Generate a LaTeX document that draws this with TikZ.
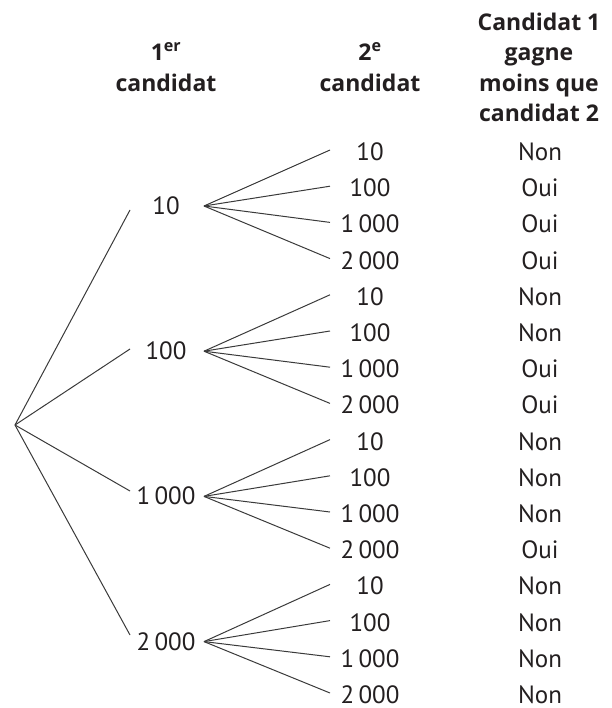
\documentclass[tikz,border=0pt]{standalone}
\usepackage{fontspec}
\setmainfont{PT Sans}
\newfontfamily\hdrfont{Open Sans}
\definecolor{ink}{HTML}{231F20}
\definecolor{wire}{HTML}{3A3A3A}
\newcommand\mythin{\hspace{0.18em}}
\tikzset{
  lbl/.style={text=ink, font=\fontsize{25}{30}\selectfont, inner sep=0pt, text depth=0pt, anchor=base},
  hdr/.style={text=ink, font=\hdrfont\fontsize{23}{30}\selectfont\bfseries, inner sep=0pt, anchor=base},
  br/.style={draw=wire, line width=1pt},
}
\begin{document}
\begin{tikzpicture}[x=1pt,y=-1pt]
\useasboundingbox (0,0) rectangle (611,708);
% headers
\node[hdr] (h1a) at (166,60.5) {1\textsuperscript{er}};
\node[hdr] (h1b) at (166,91.5) {candidat};
\node[hdr] (h2a) at (370,60.5) {2\textsuperscript{e}};
\node[hdr] (h2b) at (370,91.5) {candidat};
\node[hdr] (h3a) at (539,30.5) {Candidat 1};
\node[hdr] (h3b) at (539,60.5) {gagne};
\node[hdr] (h3c) at (539,91.5) {moins que};
\node[hdr] (h3d) at (539,122) {candidat 2};
% tree
\coordinate (root) at (15,425);
\foreach \g/\v/\yin in {0/10/210,1/100/349,2/{1\mythin000}/491,3/{2\mythin000}/635} {
  \pgfmathsetmacro\yc{206+145.2*\g}
  \node[lbl] (p\g) at (166,\yc+8.5) {\v};
  \coordinate (pi\g) at (130,\yin);
  \coordinate (po\g) at (204,\yc);
  \draw[br] (root) -- (pi\g);
  \foreach \k/\w in {0/10,1/100,2/{1\mythin000},3/{2\mythin000}} {
    \pgfmathsetmacro\yr{152+36.2*(4*\g+\k)}
    \pgfmathtruncatemacro\idx{4*\g+\k}
    \node[lbl] (q\idx) at (370,\yr+8.5) {\w};
    \coordinate (qi\idx) at (330,\yr-2);
    \draw[br] (po\g) -- (qi\idx);
  }
}
\foreach \r [count=\i from 0] in {Non,Oui,Oui,Oui,Non,Non,Oui,Oui,Non,Non,Non,Oui,Non,Non,Non,Non} {
  \pgfmathsetmacro\yr{160.5+36.2*\i}
  \node[lbl] (r\i) at (540,\yr) {\r};
}
\end{tikzpicture}
\end{document}
